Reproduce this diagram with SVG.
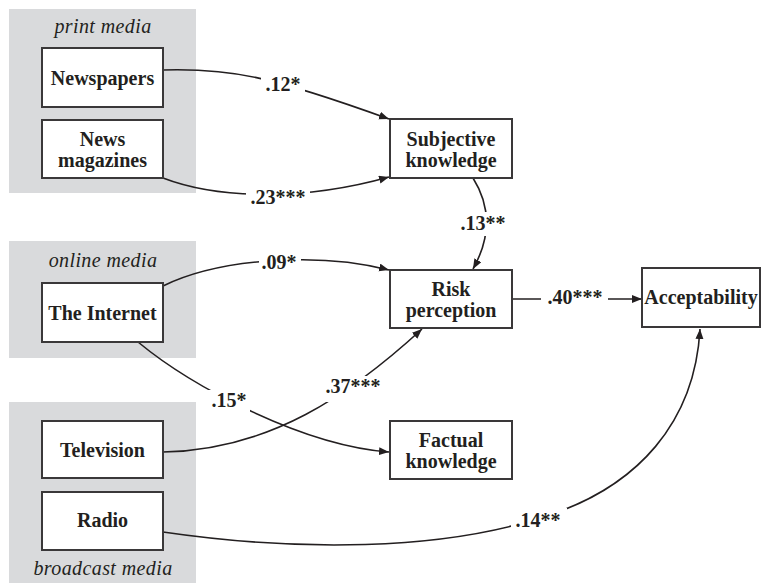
<svg xmlns="http://www.w3.org/2000/svg" width="763" height="583" viewBox="0 0 763 583">
<style>
.bg{fill:#ffffff}
.panel{fill:#d9dadc}
.box{fill:#ffffff;stroke:#3a3839;stroke-width:2}
.lbl{font-family:"Liberation Serif","Times New Roman",serif;font-weight:bold;font-size:20px;fill:#231f20;text-anchor:middle}
.cat{font-family:"Liberation Serif","Times New Roman",serif;font-style:italic;font-size:20px;fill:#231f20;text-anchor:middle;letter-spacing:0.4px}
.edge{fill:none;stroke:#231f20;stroke-width:1.6}
.coef{font-family:"Liberation Serif","Times New Roman",serif;font-weight:bold;font-size:20px;fill:#231f20;text-anchor:middle}
.gap{fill:#ffffff}
</style>
<defs>
<marker id="arr" markerUnits="userSpaceOnUse" markerWidth="12" markerHeight="10" refX="10" refY="4" orient="auto">
<path d="M0,0 L10,4 L0,8 Z" fill="#231f20"/>
</marker>
</defs>
<rect class="bg" x="0" y="0" width="763" height="583"/>
<g id="panel-print"><rect class="panel" x="9" y="9" width="187" height="184"/><text class="cat" x="103" y="33">print media</text></g>
<g id="panel-online"><rect class="panel" x="9" y="241" width="187" height="117"/><text class="cat" x="103" y="267">online media</text></g>
<g id="panel-broadcast"><rect class="panel" x="9" y="402" width="187" height="181"/><text class="cat" x="103" y="575">broadcast media</text></g>

<g id="connectors">
<path class="edge" d="M163,70 C230,68 270,76 389,119" marker-end="url(#arr)"/>
<path class="edge" d="M163,178 C215,198 300,202 389,177" marker-end="url(#arr)"/>
<path class="edge" d="M473,178 C490,205 492,235 473,269" marker-end="url(#arr)"/>
<path class="edge" d="M163,286 C220,258 320,252 389,270" marker-end="url(#arr)"/>
<path class="edge" d="M138,342 C190,385 300,445 389,452" marker-end="url(#arr)"/>
<path class="edge" d="M163,452 C270,450 350,395 422,329" marker-end="url(#arr)"/>
<path class="edge" d="M163,532 C300,552 440,550 540,518 C640,488 695,420 700,329" marker-end="url(#arr)"/>
<path class="edge" d="M512,299 L642,299" marker-end="url(#arr)"/>
<rect class="gap" x="261" y="74" width="44" height="22"/>
<text class="coef" x="283" y="91">.12*</text>
<rect class="gap" x="246" y="187" width="64" height="20"/>
<text class="coef" x="278" y="204">.23***</text>
<rect class="gap" x="458" y="212" width="52" height="24"/>
<text class="coef" x="483" y="230">.13**</text>
<rect class="gap" x="259" y="253" width="42" height="19"/>
<text class="coef" x="279" y="269">.09*</text>
<rect class="gap" x="206" y="390" width="44" height="22"/>
<text class="coef" x="229" y="407">.15*</text>
<rect class="gap" x="322" y="376" width="64" height="26"/>
<text class="coef" x="353" y="393">.37***</text>
<rect class="gap" x="511" y="508" width="56" height="24"/>
<text class="coef" x="538" y="527">.14**</text>
<rect class="gap" x="541" y="286" width="67" height="22"/>
<text class="coef" x="575" y="304">.40***</text>
</g>

<g id="newspapers"><rect class="box" x="42" y="48" width="121" height="59"/><text class="lbl" x="102.5" y="85">Newspapers</text></g>
<g id="news-magazines"><rect class="box" x="42" y="120" width="121" height="58"/><text class="lbl" x="102.5" y="146">News</text><text class="lbl" x="102.5" y="167">magazines</text></g>
<g id="the-internet"><rect class="box" x="42" y="283" width="121" height="59"/><text class="lbl" x="102.5" y="320">The Internet</text></g>
<g id="television"><rect class="box" x="42" y="421" width="121" height="57"/><text class="lbl" x="102.5" y="457">Television</text></g>
<g id="radio"><rect class="box" x="42" y="492" width="121" height="58"/><text class="lbl" x="102.5" y="527">Radio</text></g>
<g id="subjective-knowledge"><rect class="box" x="390" y="119" width="122" height="59"/><text class="lbl" x="451" y="146">Subjective</text><text class="lbl" x="451" y="167">knowledge</text></g>
<g id="risk-perception"><rect class="box" x="390" y="270" width="122" height="58"/><text class="lbl" x="451" y="296">Risk</text><text class="lbl" x="451" y="317">perception</text></g>
<g id="factual-knowledge"><rect class="box" x="390" y="421" width="122" height="58"/><text class="lbl" x="451" y="447">Factual</text><text class="lbl" x="451" y="468">knowledge</text></g>
<g id="acceptability"><rect class="box" x="642" y="268" width="118" height="59"/><text class="lbl" x="701" y="304">Acceptability</text></g>
</svg>
